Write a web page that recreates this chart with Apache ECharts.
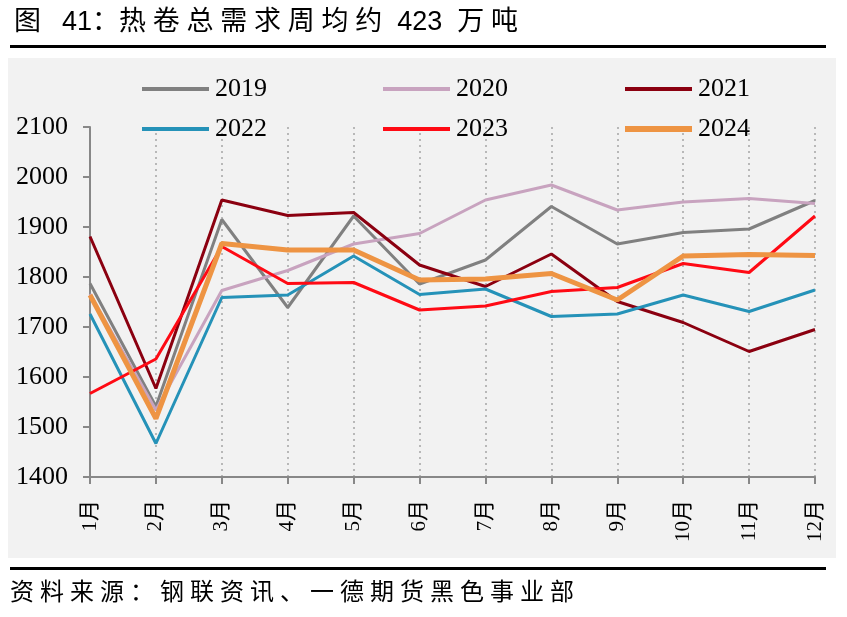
<!DOCTYPE html>
<html>
<head>
<meta charset="utf-8">
<script src="https://cdn.jsdelivr.net/npm/echarts@6/dist/echarts.min.js"></script>
<style>
  html, body { margin: 0; padding: 0; background: #fff; }
  #main { width: 847px; height: 617px; }
</style>
</head>
<body>
<div id="main"></div>
<script>
// 月份
var months = ['1月','2月','3月','4月','5月','6月','7月','8月','9月','10月','11月','12月'];
// 各年热卷总需求（周均，万吨）
var y2019 = [1787,1541,1915,1739,1922,1786,1834,1941,1866,1889,1896,1953];
var y2020 = [1766,1534,1773,1813,1866,1887,1954,1984,1934,1950,1957,1947];
var y2021 = [1881,1577,1954,1923,1929,1824,1781,1846,1751,1709,1651,1695];
var y2022 = [1726,1467,1759,1764,1842,1765,1776,1721,1726,1764,1731,1774];
var y2023 = [1567,1636,1861,1787,1789,1734,1742,1771,1779,1827,1809,1922];
var y2024 = [1764,1517,1867,1854,1854,1794,1796,1807,1754,1842,1845,1843];

var serif = '"Liberation Serif", "Times New Roman", "Noto Sans CJK SC", serif';
var sans = '"Liberation Sans", "Noto Sans CJK SC", sans-serif';
var sp = '\u2005';

// 字间加一点空隙
function spaced(s) { return s.split('').join(sp); }

function mkLine(name, data, color, width) {
    return {
        name: name,
        type: 'line',
        data: data,
        symbol: 'none',
        lineStyle: { color: color, width: width },
        itemStyle: { color: color },
        animation: false
    };
}

// 图例：两行三列
var legendPos = [
    ['2019', 142, 76], ['2020', 383, 76], ['2021', 625, 76],
    ['2022', 142, 116], ['2023', 383, 116], ['2024', 625, 116]
];
var legends = legendPos.map(function (p) {
    return {
        data: [p[0]],
        left: p[1],
        top: p[2],
        padding: 0,
        itemWidth: 67,
        itemHeight: p[0] == '2024' ? 6 : 4,
        itemGap: 6,
        icon: 'rect',
        textStyle: { fontFamily: serif, fontSize: 26, lineHeight: 26, color: '#000', padding: [0, 0, 0, 1] }
    };
});

var myChart = echarts.init(document.getElementById('main'));
myChart.setOption({
    backgroundColor: '#fff',
    animation: false,
    graphic: [
        { type: 'text', left: 14, top: 9, style: { text: '图' + sp + sp + ' 41：' + spaced('热卷总需求周均约') + '  423  ' + spaced('万吨'), font: '27px ' + sans, fill: '#000' } },
        { type: 'rect', shape: { x: 10, y: 45, width: 816, height: 3 }, style: { fill: '#000' } },
        { type: 'rect', shape: { x: 8, y: 58, width: 828, height: 500 }, style: { fill: '#F2F2F2' }, z: -10 },
        { type: 'rect', shape: { x: 10, y: 567, width: 816, height: 3 }, style: { fill: '#000' } },
        { type: 'text', left: 10, top: 581, style: { text: spaced('资料来源：钢联资讯、一德期货黑色事业部'), font: '24px ' + sans, fill: '#000' } }
    ],
    legend: legends,
    grid: { left: 90, right: 32, top: 127, bottom: 140 },
    xAxis: {
        type: 'category',
        data: months,
        boundaryGap: false,
        axisLine: { lineStyle: { color: '#888', width: 2 } },
        axisTick: { show: true, alignWithLabel: true, length: 7, lineStyle: { color: '#888', width: 2 } },
        axisLabel: { rotate: 90, fontFamily: serif, fontSize: 21, color: '#000', margin: 23, interval: 0 },
        splitLine: { show: true, lineStyle: { color: '#B8B8B8', type: [2, 4], width: 2 } }
    },
    yAxis: {
        type: 'value',
        min: 1400,
        max: 2100,
        interval: 100,
        axisLine: { show: true, lineStyle: { color: '#888', width: 2 } },
        axisTick: { show: true, length: 7, lineStyle: { color: '#888', width: 2 } },
        axisLabel: { fontFamily: serif, fontSize: 26, color: '#000', margin: 22, formatter: function (v) { return String(v); } },
        splitLine: { show: false }
    },
    series: [
        mkLine('2019', y2019, '#808080', 3),
        mkLine('2020', y2020, '#C8A3BF', 3),
        mkLine('2021', y2021, '#8B0010', 3),
        mkLine('2022', y2022, '#2592B8', 3),
        mkLine('2023', y2023, '#FF0A14', 3),
        mkLine('2024', y2024, '#EE9443', 5)
    ]
});
</script>
</body>
</html>
